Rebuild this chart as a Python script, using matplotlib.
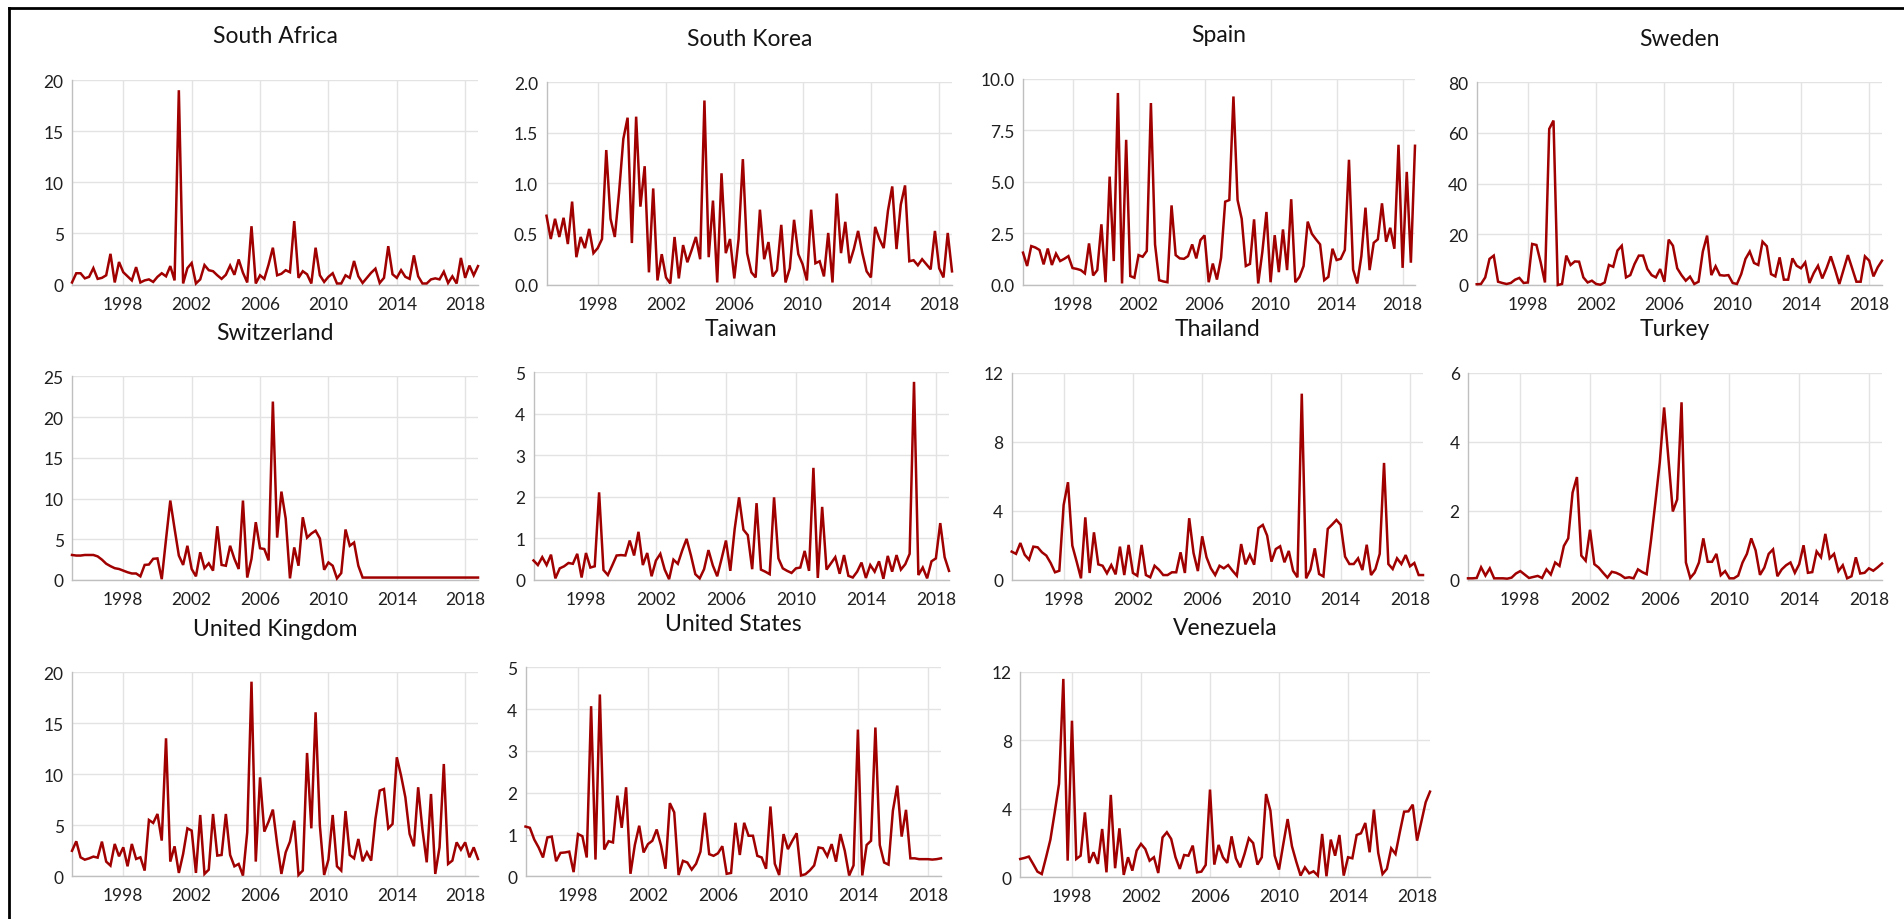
import numpy as np
import matplotlib
matplotlib.use("Agg")
import matplotlib.pyplot as plt
from matplotlib.ticker import FormatStrFormatter
from matplotlib.lines import Line2D

plt.rcParams['font.family'] = ['Lato', 'DejaVu Sans']

# Quarterly observations, 1995 Q1 .. 2018 Q4
quarters = 1995 + 0.25 * np.arange(96)
year_ticks = [1998, 2002, 2006, 2010, 2014, 2018]

south_africa = [0.2,1.1,1.1,0.6,0.75,1.6,0.55,0.65,0.9,3.0,
                0.2,2.2,1.2,0.8,0.4,1.7,0.2,0.4,0.5,0.25,
                0.75,1.1,0.8,1.8,0.4,19.0,0.1,1.6,2.1,0.1,
                0.5,1.9,1.4,1.3,0.9,0.55,0.95,1.85,0.95,2.45,
                1.15,0.2,5.7,0.1,0.9,0.55,1.95,3.6,0.9,1.05,
                1.4,1.2,6.2,0.65,1.3,1.0,0.1,3.6,0.9,0.25,
                0.75,1.1,0.1,0.1,0.9,0.65,2.3,0.8,0.15,0.65,
                1.15,1.55,0.15,0.65,3.75,1.0,0.65,1.4,0.75,0.55,
                2.85,0.8,0.1,0.1,0.5,0.6,0.5,1.25,0.15,0.8,
                0.1,2.6,0.65,1.85,0.9,1.8]

south_korea = [0.68,0.45,0.65,0.47,0.66,0.40,0.82,0.27,0.47,0.36,
               0.55,0.31,0.36,0.45,1.33,0.65,0.47,0.91,1.44,1.65,
               0.41,1.66,0.77,1.17,0.12,0.95,0.04,0.30,0.07,0.01,
               0.47,0.06,0.39,0.22,0.34,0.47,0.25,1.82,0.27,0.83,
               0.02,1.10,0.31,0.45,0.06,0.45,1.24,0.31,0.12,0.07,
               0.74,0.25,0.42,0.08,0.14,0.59,0.02,0.16,0.64,0.30,
               0.20,0.04,0.74,0.21,0.23,0.08,0.51,0.02,0.90,0.31,
               0.62,0.21,0.35,0.53,0.31,0.13,0.07,0.57,0.45,0.36,
               0.73,0.97,0.35,0.79,0.98,0.23,0.24,0.19,0.25,0.20,
               0.15,0.53,0.16,0.07,0.51,0.13]

spain = [1.55,0.9,1.87,1.8,1.68,0.98,1.75,0.95,1.5,1.14,
         1.25,1.38,0.8,0.76,0.7,0.54,2.0,0.44,0.7,2.93,
         0.11,5.25,1.14,9.32,0.05,7.04,0.41,0.33,1.43,1.35,
         1.63,8.83,1.95,0.21,0.15,0.11,3.85,1.43,1.27,1.25,
         1.38,1.95,1.27,2.16,2.39,0.11,1.02,0.24,1.3,4.03,
         4.11,9.15,4.11,3.2,0.9,1.0,3.17,0.05,1.58,3.53,
         0.11,2.4,0.6,2.68,0.7,4.15,0.11,0.37,0.9,3.06,
         2.47,2.2,1.95,0.21,0.37,1.74,1.19,1.25,1.68,6.07,
         0.73,0.05,1.38,3.74,0.7,2.03,2.2,3.95,2.08,2.76,
         1.74,6.8,0.81,5.48,1.06,6.75]

sweden = [0.3,0.4,3.0,10.3,11.6,1.3,0.8,0.4,0.8,2.1,
          2.8,0.8,1.0,16.2,15.8,8.9,1.0,61.6,64.9,0.0,
          0.4,11.6,7.9,9.3,9.2,3.0,1.0,1.7,0.4,0.1,
          1.0,7.9,7.2,13.6,15.5,3.0,3.9,8.3,11.6,11.6,
          6.3,3.9,3.0,6.3,1.3,17.9,15.5,6.6,3.9,1.7,
          3.3,0.4,1.3,13.2,19.5,3.9,7.4,3.9,3.7,3.9,
          0.8,0.4,4.3,10.3,13.2,8.7,7.9,17.1,15.3,4.3,
          3.4,10.9,2.1,2.1,10.5,7.6,6.6,8.9,0.8,4.7,
          7.6,2.6,6.6,11.3,6.1,0.4,6.1,11.8,6.6,1.3,
          1.3,11.3,9.6,3.4,7.0,9.6]

switzerland = [3.07,3.0,3.0,3.07,3.07,3.07,2.9,2.5,2.0,1.7,
               1.45,1.35,1.15,0.95,0.8,0.8,0.45,1.85,1.9,2.6,
               2.65,0.1,5.0,9.75,6.3,3.0,1.85,4.2,1.35,0.45,
               3.4,1.45,2.05,1.15,6.6,1.85,1.75,4.2,2.6,1.35,
               9.75,0.3,2.6,7.1,3.9,3.8,2.4,21.9,5.2,10.85,
               7.55,0.2,4.0,1.75,7.7,5.2,5.7,6.05,5.1,1.25,
               2.15,1.75,0.2,0.85,6.2,4.2,4.6,1.75,0.3,0.3,
               0.3,0.3,0.3,0.3,0.3,0.3,0.3,0.3,0.3,0.3,
               0.3,0.3,0.3,0.3,0.3,0.3,0.3,0.3,0.3,0.3,
               0.3,0.3,0.3,0.3,0.3,0.3]

taiwan = [0.47,0.36,0.55,0.36,0.61,0.04,0.28,0.33,0.41,0.39,
          0.63,0.06,0.65,0.3,0.33,2.11,0.24,0.12,0.35,0.59,
          0.6,0.59,0.95,0.59,1.16,0.36,0.65,0.09,0.47,0.63,
          0.25,0.02,0.49,0.39,0.71,0.99,0.59,0.14,0.04,0.26,
          0.72,0.35,0.09,0.51,0.95,0.22,1.23,1.99,1.21,1.08,
          0.26,1.85,0.25,0.2,0.14,1.99,0.52,0.28,0.22,0.17,
          0.28,0.3,0.7,0.22,2.7,0.05,1.76,0.25,0.4,0.55,
          0.15,0.6,0.1,0.06,0.2,0.42,0.05,0.36,0.2,0.45,
          0.03,0.58,0.2,0.6,0.25,0.38,0.63,4.77,0.12,0.3,
          0.04,0.45,0.52,1.37,0.55,0.22]

thailand = [1.63,1.5,2.13,1.45,1.16,1.92,1.88,1.59,1.4,0.97,
            0.43,0.52,4.34,5.66,1.98,1.05,0.08,3.62,0.39,2.75,
            0.89,0.81,0.37,0.85,0.31,1.92,0.27,2.02,0.39,0.23,
            2.02,0.27,0.14,0.81,0.58,0.27,0.27,0.43,0.43,1.59,
            0.39,3.57,1.55,0.5,2.52,1.3,0.66,0.27,0.81,0.66,
            0.85,0.52,0.23,2.07,0.89,1.45,0.87,3.0,3.18,2.56,
            1.05,1.78,1.94,1.01,1.67,0.52,0.14,10.8,0.08,0.58,
            1.82,0.33,0.19,2.95,3.2,3.47,3.18,1.34,0.91,0.91,
            1.24,0.56,2.03,0.27,0.62,1.5,6.78,0.91,0.62,1.24,
            0.91,1.43,0.78,0.97,0.27,0.27]

turkey = [0.04,0.04,0.05,0.36,0.12,0.33,0.04,0.04,0.04,0.03,
          0.06,0.18,0.25,0.15,0.05,0.08,0.11,0.05,0.3,0.15,
          0.5,0.4,0.98,1.2,2.53,2.98,0.7,0.55,1.45,0.45,
          0.35,0.2,0.06,0.23,0.2,0.14,0.05,0.07,0.04,0.3,
          0.22,0.16,1.15,2.25,3.4,5.0,3.5,1.98,2.33,5.15,
          0.5,0.05,0.2,0.5,1.2,0.52,0.52,0.75,0.13,0.25,
          0.04,0.04,0.12,0.5,0.75,1.2,0.85,0.14,0.35,0.75,
          0.88,0.1,0.3,0.42,0.5,0.2,0.45,1.0,0.2,0.22,
          0.82,0.65,1.33,0.62,0.75,0.25,0.42,0.04,0.1,0.65,
          0.18,0.2,0.33,0.26,0.36,0.47]

united_kingdom = [2.5,3.43,1.86,1.63,1.76,1.93,1.83,3.4,1.44,1.05,
                  3.17,1.96,2.84,0.98,3.17,1.7,1.86,0.56,5.52,5.23,
                  6.11,3.5,13.53,1.44,2.94,0.33,2.19,4.7,4.48,0.33,
                  6.01,0.23,0.65,6.11,2.03,2.09,6.11,2.09,0.98,1.21,
                  0.07,4.31,19.08,1.44,9.7,4.38,5.36,6.54,3.17,0.23,
                  2.35,3.4,5.46,0.13,0.56,12.09,4.7,16.08,4.97,0.13,
                  1.63,6.01,0.98,0.56,6.4,2.09,1.76,3.66,1.47,2.35,
                  1.54,5.62,8.4,8.56,4.7,5.13,11.67,9.87,7.75,4.15,
                  2.94,8.73,4.58,1.37,8.07,0.23,2.84,11.01,1.21,1.54,
                  3.33,2.61,3.33,1.86,2.84,1.7]

united_states = [1.19,1.16,0.88,0.69,0.45,0.93,0.95,0.36,0.56,0.57,
                 0.59,0.1,1.01,0.96,0.45,4.07,0.4,4.35,0.64,0.84,
                 0.81,1.93,1.16,2.13,0.06,0.75,1.21,0.57,0.77,0.85,
                 1.12,0.73,0.18,1.75,1.53,0.03,0.37,0.33,0.16,0.3,
                 0.59,1.52,0.53,0.49,0.55,0.72,0.06,0.08,1.28,0.51,
                 1.28,0.97,0.97,0.49,0.45,0.18,1.67,0.3,0.03,1.01,
                 0.65,0.85,1.03,0.02,0.05,0.14,0.26,0.69,0.67,0.48,
                 0.77,0.35,1.01,0.61,0.02,0.26,3.51,0.02,0.75,0.85,
                 3.56,0.75,0.33,0.28,1.57,2.17,0.95,1.59,0.43,0.43,
                 0.41,0.41,0.41,0.4,0.41,0.43]

venezuela = [1.07,1.13,1.21,0.78,0.33,0.19,1.17,2.2,3.79,5.45,
             11.58,0.97,9.14,1.07,1.26,3.79,0.84,1.46,0.78,2.82,
             0.29,4.81,0.53,2.86,0.14,1.17,0.39,1.56,1.95,1.65,
             0.97,1.17,0.25,2.33,2.63,2.24,1.17,0.49,1.3,1.26,
             1.85,0.29,0.33,0.72,5.12,0.74,1.89,1.17,0.84,2.39,
             1.11,0.58,1.36,2.28,2.0,0.74,1.17,4.86,3.89,1.26,
             0.45,1.95,3.4,1.81,0.91,0.1,0.58,0.23,0.35,0.1,
             2.53,0.06,2.2,1.26,2.47,0.1,1.17,1.11,2.47,2.57,
             3.17,1.46,3.95,1.42,0.19,0.49,1.69,1.36,2.63,3.83,
             3.85,4.24,2.14,3.25,4.38,5.0]

titles = ["South Africa", "South Korea", "Spain", "Sweden",
          "Switzerland", "Taiwan", "Thailand", "Turkey",
          "United Kingdom", "United States", "Venezuela"]
series = [south_africa, south_korea, spain, sweden,
          switzerland, taiwan, thailand, turkey,
          united_kingdom, united_states, venezuela]
y_max = [20, 2.0, 10.0, 80, 25, 5, 12, 6, 20, 5, 12]
y_step = [5, 0.5, 2.5, 20, 5, 1, 4, 2, 5, 1, 4]
y_fmt = ["%d", "%.1f", "%.1f", "%d", "%d", "%d", "%d", "%d", "%d", "%d", "%d"]

# plot-area boxes in pixels: left, top, right, bottom
boxes = [(72, 81, 478, 285.5), (546.5, 83.3, 952, 285.5), (1023, 80, 1415, 285.5), (1476.7, 83.3, 1882, 286),
         (72, 377.3, 478, 581), (533.5, 373.3, 949, 581), (1011.7, 374, 1423, 580.7), (1468, 374, 1882, 580.7),
         (72, 673.3, 478, 877.3), (525.5, 668.3, 941, 877.3), (1020.2, 672.7, 1430, 878.3)]

W, H = 1904, 920
fig = plt.figure(figsize=(W / 100, H / 100), dpi=100)
fig.patch.set_facecolor("white")

line_color = "#A00000"
grid_color = "#E3E3E3"
axis_color = "#BFBFBF"
text_color = "#1f1f1f"

for title, vals, ym, ys, fmt, (l, t, r, b) in zip(titles, series, y_max, y_step, y_fmt, boxes):
    ax = fig.add_axes([l / W, 1 - b / H, (r - l) / W, (b - t) / H])
    ax.plot(quarters[:len(vals)], vals, color=line_color, lw=1.8, solid_joinstyle="miter", clip_on=False, zorder=3)
    ax.set_xlim(1995, 2018.75)
    ax.set_ylim(0, ym)
    ax.set_yticks(np.arange(0, ym + ys / 2, ys))
    ax.yaxis.set_major_formatter(FormatStrFormatter(fmt))
    ax.set_xticks(year_ticks)
    ax.set_xticklabels([str(y) for y in year_ticks])
    ax.grid(True, color=grid_color, lw=1.0)
    ax.set_axisbelow(True)
    for s in ["top", "right"]:
        ax.spines[s].set_visible(False)
    for s in ["left", "bottom"]:
        ax.spines[s].set_color(axis_color)
        ax.spines[s].set_linewidth(1.0)
    ax.tick_params(length=0, labelsize=12.5, colors=text_color)
    ax.tick_params(axis="x", pad=8)
    ax.tick_params(axis="y", pad=6)
    ax.annotate(title, xy=(0.5, 1.0), xycoords="axes fraction", xytext=(0, 31.7),
                textcoords="offset points", ha="center", va="center",
                fontsize=16.5, color="#141414")

# outer frame (left and top edges)
fig.add_artist(Line2D([9 / W, 9 / W], [0, 1 - 9 / H], color="black", lw=2.0, transform=fig.transFigure))
fig.add_artist(Line2D([9 / W, 1], [1 - 9 / H, 1 - 9 / H], color="black", lw=2.0, transform=fig.transFigure))

fig.savefig("out.png", dpi=100, facecolor="white")
